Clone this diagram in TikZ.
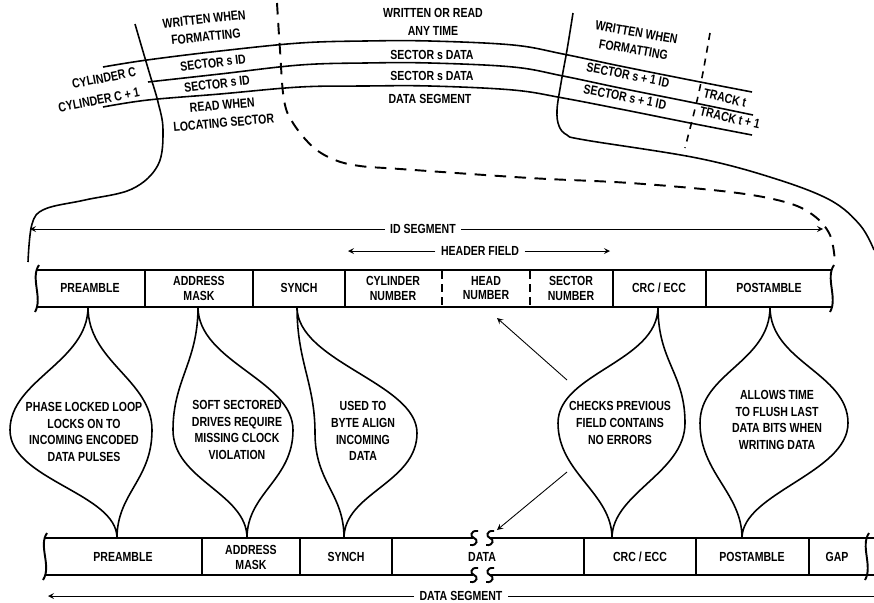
\documentclass[tikz,border=0pt]{standalone}
\usepackage{fontspec}
\setmainfont{Liberation Sans}[FakeStretch=0.8]
\usetikzlibrary{arrows, positioning, calc}
\tikzset{
	>=stealth,
	lbl/.style={font=\fontsize{7.5}{8.5}\selectfont\bfseries, align=center, inner sep=1pt},
	tlbl/.style={font=\fontsize{7.5}{10}\selectfont\bfseries, align=center, inner sep=1pt},
	note/.style={font=\fontsize{7.5}{9.6}\selectfont\bfseries, align=center},
	bar/.style={line width=1.1pt},
	track/.style={line width=0.9pt},
	bulb/.style={line width=0.9pt},
	cut/.style={line width=1.1pt, dash pattern=on 2.3mm off 1.7mm},
	tick/.style={line width=0.9pt, dash pattern=on 1.4mm off 1.2mm},
	pointer/.style={->, line width=0.5pt},
}

\begin{document}
\begin{tikzpicture}[x=0.02cm, y=-0.02cm]
	\useasboundingbox (0,0) rectangle (874,602);

	% tracks on the disk
	\draw[track] plot[smooth, tension=0.6] coordinates {(103,67) (147,60) (220,51) (300,43) (365,41) (430,41) (513,45) (563,54) (620,66) (690,80) (752,92)};
	\draw[track] plot[smooth, tension=0.6] coordinates {(148,82) (220,74) (300,65) (365,63) (430,63) (513,67) (563,76) (620,88) (690,102) (753,115)};
	\draw[track] plot[smooth, tension=0.6] coordinates {(103,107) (148,100) (220,94) (300,87) (365,86) (430,86) (513,90) (563,98) (620,109) (690,123) (752,135)};

	\draw[track] plot[smooth, tension=0.6] coordinates {(135,24) (142,48) (150,75) (158,102) (163,130) (158,165) (132,189) (85,200) (45,209) (32,224) (28,262)};
	\draw[track] plot[smooth, tension=0.6] coordinates {(573,13) (567,50) (561,83) (557,110) (559,126) (567,135) (585,140) (697,158) (773,178) (830,200) (860,225) (874,250)};
	\draw[cut] plot[smooth, tension=0.6] coordinates {(277,3) (280,50) (284,100) (293,123) (313,147) (335,160) (360,166) (400,169) (530,178) (630,183) (730,192) (785,202) (813,215) (830,235) (835,262)};
	\draw[tick] (710,33) .. controls (700,90) .. (685,148);

	\node[tlbl, rotate=6] (wrf1) at (205,28) {WRITTEN WHEN\\FORMATTING};
	\node[lbl, rotate=7] (sid1) at (213,63) {SECTOR s ID};
	\node[lbl, rotate=7] (sid2) at (217,84) {SECTOR s ID};
	\node[tlbl, rotate=5] (rdloc) at (223,114) {READ WHEN\\LOCATING SECTOR};
	\node[lbl, rotate=11] (cylc) at (104,78) {CYLINDER C};
	\node[lbl, rotate=11] (cylc1) at (99,100) {CYLINDER C + 1};
	\node[tlbl] (wrany) at (433,22) {WRITTEN OR READ\\ANY TIME};
	\node[lbl] (sdat1) at (432,55) {SECTOR s DATA};
	\node[lbl] (sdat2) at (432,76) {SECTOR s DATA};
	\node[lbl] (dseg) at (430,99) {DATA SEGMENT};
	\node[tlbl, rotate=-10] (wrf2) at (635,41) {WRITTEN WHEN\\FORMATTING};
	\node[lbl, rotate=-11] (snx1) at (628,75) {SECTOR s + 1 ID};
	\node[lbl, rotate=-11] (snx2) at (625,97) {SECTOR s + 1 ID};
	\node[lbl, rotate=-13] (trk1) at (725,98) {TRACK t};
	\node[lbl, rotate=-13] (trk2) at (730,118) {TRACK t + 1};

	% ID segment
	\coordinate (idL) at (30,229);
	\coordinate (idR) at (823,229);
	\node[lbl, fill=white, inner sep=3pt] (idlab) at (423,229) {ID SEGMENT};
	\draw[pointer] (idlab) -- (idL);
	\draw[pointer] (idlab) -- (idR);
	\coordinate (hdL) at (348,251);
	\coordinate (hdR) at (610,251);
	\node[lbl, fill=white, inner sep=3pt] (hdlab) at (480,251) {HEADER FIELD};
	\draw[pointer] (hdlab) -- (hdL);
	\draw[pointer] (hdlab) -- (hdR);

	\draw[bar] (37,270) -- (832,270);
	\draw[bar] (37,307) -- (832,307);
	\draw[bar] (39,265) .. controls (30,278) and (43,298) .. (35,312);
	\draw[bar] (834,265) .. controls (825,278) and (838,298) .. (830,312);
	\foreach \x in {145,253,345,613,706}
		\draw[bar] (\x,270) -- (\x,307);
	\foreach \x in {442,530}
		\draw[line width=0.9pt, dash pattern=on 1.5mm off 1.1mm] (\x,271) -- (\x,307);

	\node[lbl] (pre1) at (90,288) {PREAMBLE};
	\node[lbl] (adm1) at (199,288) {ADDRESS\\MASK};
	\node[lbl] (syn1) at (299,288) {SYNCH};
	\node[lbl] (cyl) at (393,288) {CYLINDER\\NUMBER};
	\node[lbl] (head) at (486,288) {HEAD\\NUMBER};
	\node[lbl] (sec) at (571,288) {SECTOR\\NUMBER};
	\node[lbl] (crc1) at (659,288) {CRC / ECC};
	\node[lbl] (post1) at (769,288) {POSTAMBLE};

	% data segment
	\draw[bar] (45,538) -- (473,538);
	\draw[bar] (489,538) -- (874,538);
	\draw[bar] (45,575) -- (473,575);
	\draw[bar] (489,575) -- (874,575);
	\foreach \x in {473,489} {
		\draw[bar] (\x+5,531) .. controls (\x-3,530) and (\x-3,537) .. (\x+1,538) .. controls (\x+5,539) and (\x+5,546) .. (\x-3,545);
		\draw[bar] (\x+5,568) .. controls (\x-3,567) and (\x-3,574) .. (\x+1,575) .. controls (\x+5,576) and (\x+5,583) .. (\x-3,582);
	}
	\draw[bar] (47,533) .. controls (38,546) and (52,566) .. (43,580);
	\draw[bar] (869,533) .. controls (860,546) and (873,566) .. (865,580);
	\foreach \x in {202,300,392,584,696,809}
		\draw[bar] (\x,538) -- (\x,575);

	\node[lbl] (pre2) at (123,557) {PREAMBLE};
	\node[lbl] (adm2) at (251,557) {ADDRESS\\MASK};
	\node[lbl] (syn2) at (346,557) {SYNCH};
	\node[lbl] (data) at (482,557) {DATA};
	\node[lbl] (crc2) at (640,557) {CRC / ECC};
	\node[lbl] (post2) at (752,557) {POSTAMBLE};
	\node[lbl] (gap) at (837,557) {GAP};

	\coordinate (dsL) at (48,596);
	\coordinate (dsR) at (874,596);
	\node[lbl, fill=white, inner sep=3pt] (dslab) at (461,596) {DATA SEGMENT};
	\draw[pointer] (dslab) -- (dsL);
	\draw[line width=0.5pt] (dslab) -- (dsR);

	% notes
	\node[note] (pll) at (84,432) {PHASE LOCKED LOOP\\LOCKS ON TO\\INCOMING ENCODED\\DATA PULSES};
	\node[note] (soft) at (237,430) {SOFT SECTORED\\DRIVES REQUIRE\\MISSING CLOCK\\VIOLATION};
	\node[note] (byte) at (363,431) {USED TO\\BYTE ALIGN\\INCOMING\\DATA};
	\node[note] (chk) at (620,423) {CHECKS PREVIOUS\\FIELD CONTAINS\\NO ERRORS};
	\node[note] (flush) at (777,420) {ALLOWS TIME\\TO FLUSH LAST\\DATA BITS WHEN\\WRITING DATA};

	\coordinate (pT) at (88,307);   \coordinate (pB) at (117,538);
	\coordinate (aT) at (198,307);  \coordinate (aB) at (247,538);
	\coordinate (sT) at (297,307);  \coordinate (sB) at (344,538);
	\coordinate (cT) at (658,307);  \coordinate (cB) at (612,538);
	\coordinate (oT) at (770,307);  \coordinate (oB) at (742,538);

	\draw[bulb] (pT) .. controls +(0,55) and +(0,-50) .. (10,430) .. controls +(0,50) and +(0,-45) .. (pB)
		.. controls +(0,-45) and +(0,50) .. (152,430) .. controls +(0,-50) and +(0,55) .. (pT);
	\draw[bulb] (aT) .. controls +(0,55) and +(0,-50) .. (173,430) .. controls +(0,50) and +(0,-45) .. (aB)
		.. controls +(0,-45) and +(0,50) .. (293,430) .. controls +(0,-50) and +(0,55) .. (aT);
	\draw[bulb] (sT) .. controls +(0,55) and +(0,-50) .. (315,433) .. controls +(0,50) and +(0,-45) .. (sB)
		.. controls +(0,-45) and +(0,50) .. (417,433) .. controls +(0,-50) and +(0,55) .. (sT);
	\draw[bulb] (cT) .. controls +(0,55) and +(0,-50) .. (558,423) .. controls +(0,50) and +(0,-45) .. (cB)
		.. controls +(0,-45) and +(0,50) .. (685,423) .. controls +(0,-50) and +(0,55) .. (cT);
	\draw[bulb] (oT) .. controls +(0,55) and +(0,-50) .. (700,423) .. controls +(0,50) and +(0,-45) .. (oB)
		.. controls +(0,-45) and +(0,50) .. (848,423) .. controls +(0,-50) and +(0,55) .. (oT);

	\coordinate (chkup) at (567,380);
	\coordinate (chkdn) at (567,472);
	\coordinate (headpt) at (497,318);
	\coordinate (breakpt) at (497,530);
	\draw[pointer] (chkup) -- (headpt);
	\draw[pointer] (chkdn) -- (breakpt);

\end{tikzpicture}
\end{document}
